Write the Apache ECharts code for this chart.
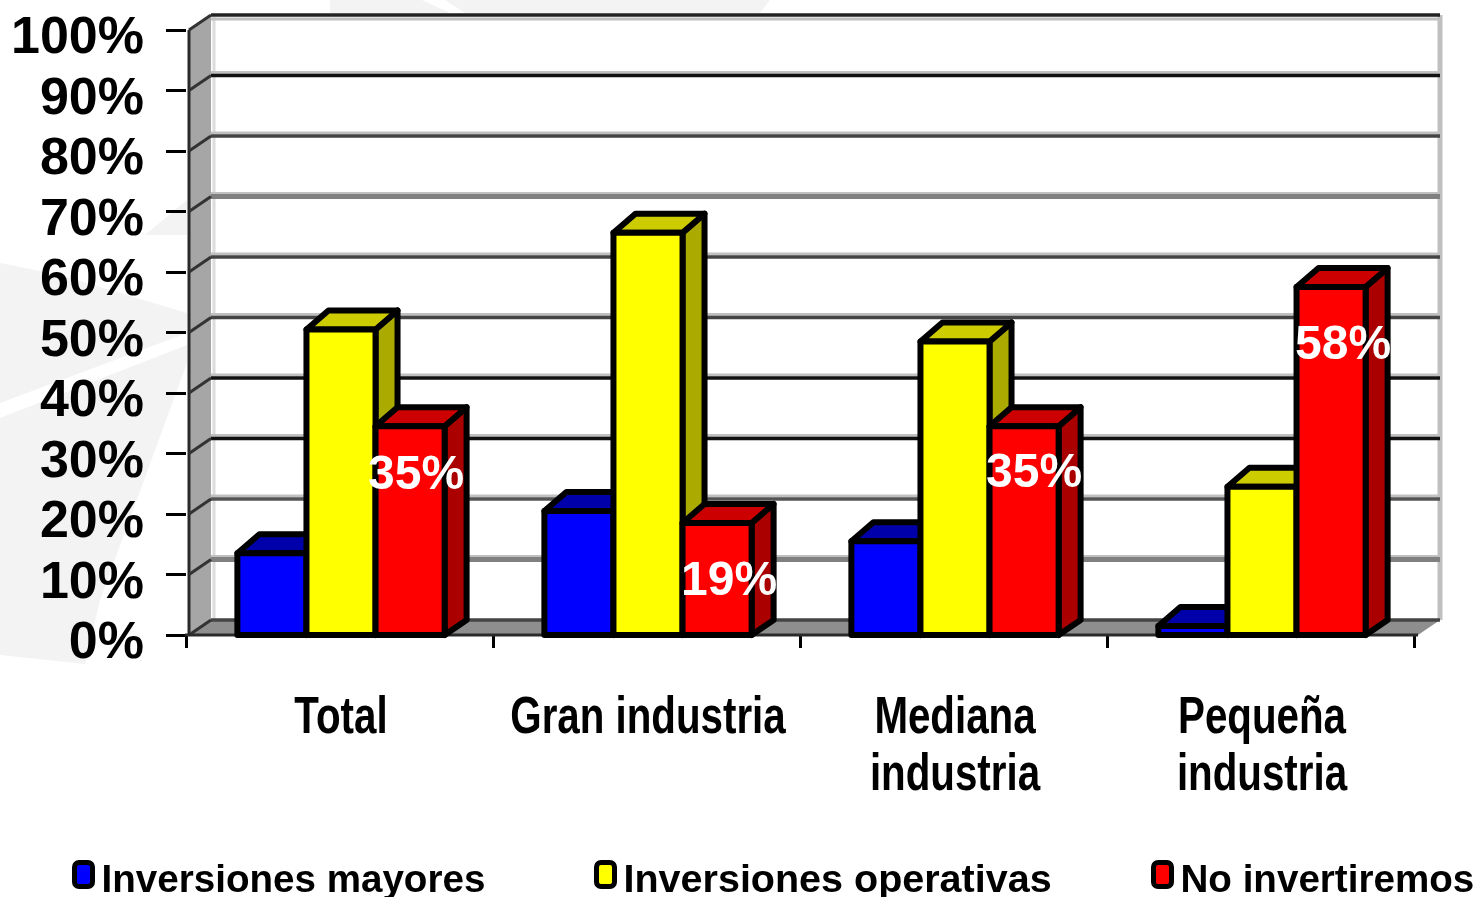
<!DOCTYPE html>
<html>
<head>
<meta charset="utf-8">
<style>
    html, body { margin: 0; padding: 0; background: #fff; }
    #chart { width: 1479px; height: 897px; }
</style>
<script src="https://cdn.jsdelivr.net/npm/echarts@6/dist/echarts.min.js"></script>
</head>
<body>
<div id="chart"></div>
<script>
    var categories = ['Total', 'Gran industria', 'Mediana\nindustria', 'Pequeña\nindustria'];
    var mayores = [14, 21, 16, 2];
    var operativas = [51, 67, 49, 25];
    var noInvertiremos = [35, 19, 35, 58];
    var yTicks = [0, 10, 20, 30, 40, 50, 60, 70, 80, 90, 100];

    // estilo del dibujo, aparte de los datos
    var DX = 22, DY = -15;
    var BAR_DY = -19, BAR_DROP = 3, BAR_RATIO = 0.225, BAR_SHIFT = 1.5;
    var gridColors = ['#444', '#808080', '#555', '#111', '#111', '#444', '#444', '#808080', '#444', '#111', '#222'];
    var labelFont = 'bold 48px "Liberation Sans"';
    var labelShift = [[6, 53], [12, 62], [10, 51], [12, 62]];

    function wallItem(params, api) {
        var p0 = api.coord([0, 0]);
        var p100 = api.coord([0, 100]);
        var band = api.size([1, 0])[0];
        var x0 = p0[0] - band * 0.5 + 3;
        var x1 = p0[0] + band * 3.5 + 4;
        var children = [
            { type: 'rect', shape: { x: x0 + DX, y: p100[1] + DY, width: x1 - x0, height: p0[1] - p100[1] }, style: { fill: '#fff' } },
            { type: 'polygon', shape: { points: [[x0, p100[1]], [x0 + DX, p100[1] + DY], [x0 + DX, p0[1] + DY], [x0, p0[1]]] }, style: { fill: '#a6a6a6' } },
            { type: 'polygon', shape: { points: [[x0, p0[1]], [x0 + DX, p0[1] + DY], [x1 + DX, p0[1] + DY], [x1, p0[1]]] }, style: { fill: '#8e8e8e' } },
            { type: 'line', shape: { x1: x0 + DX + 3, y1: p100[1] + DY + 2, x2: x0 + DX + 3, y2: p0[1] + DY }, style: { stroke: '#dcdcdc', lineWidth: 3 } },
            { type: 'line', shape: { x1: x1 + DX, y1: p100[1] + DY, x2: x1 + DX, y2: p0[1] + DY }, style: { stroke: '#c0c0c0', lineWidth: 5 } },
            { type: 'line', shape: { x1: x0, y1: p100[1], x2: x0, y2: p0[1] }, style: { stroke: '#2a2a2a', lineWidth: 3 } }
        ];
        yTicks.forEach(function (t, i) {
            var y = api.coord([0, t])[1];
            // la linea clara va encima, salvo en el 100% donde va debajo
            if (t > 0) {
                var lightY = t == 100 ? y + DY + 4 : y + DY - 3;
                children.push({ type: 'line', shape: { x1: x0 + DX, y1: lightY, x2: x1 + DX - 2, y2: lightY }, style: { stroke: '#c0c0c0', lineWidth: 3 } });
            }
            children.push({ type: 'line', shape: { x1: x0 + DX, y1: y + DY, x2: x1 + DX, y2: y + DY }, style: { stroke: gridColors[i], lineWidth: t == 70 || t == 10 ? 5 : 3.5 } });
            children.push({ type: 'line', shape: { x1: x0, y1: y, x2: x0 + DX, y2: y + DY }, style: { stroke: '#333', lineWidth: 3 } });
        });
        children.push({ type: 'line', shape: { x1: x0 - 4, y1: p0[1], x2: x1, y2: p0[1] }, style: { stroke: '#2a2a2a', lineWidth: 3 } });
        return { type: 'group', children: children };
    }

    function barRenderer(index, front, top, side) {
        return function (params, api) {
            var cat = api.value(0);
            var val = api.value(1);
            var pTop = api.coord([cat, val]);
            var pBase = api.coord([cat, 0]);
            var w = api.size([1, 0])[0] * BAR_RATIO;
            var x0 = pTop[0] + (index - 1.5) * w + BAR_SHIFT;
            var x1 = x0 + w;
            var yT = pTop[1] + BAR_DROP, yB = pBase[1];
            var lineStyle = { stroke: '#000', lineWidth: 6, lineJoin: 'round' };
            return {
                type: 'group',
                children: [
                    { type: 'polygon', shape: { points: [[x1, yT], [x1 + DX, yT + BAR_DY], [x1 + DX, yB + DY], [x1, yB]] }, style: Object.assign({ fill: side }, lineStyle) },
                    { type: 'polygon', shape: { points: [[x0, yT], [x0 + DX, yT + BAR_DY], [x1 + DX, yT + BAR_DY], [x1, yT]] }, style: Object.assign({ fill: top }, lineStyle) },
                    { type: 'rect', shape: { x: x0, y: yT, width: w, height: yB - yT }, style: Object.assign({ fill: front }, lineStyle) }
                ]
            };
        };
    }

    function labelItem(params, api) {
        var i = params.dataIndex;
        var p = api.coord([i, api.value(1)]);
        var w = api.size([1, 0])[0] * BAR_RATIO;
        return {
            type: 'text',
            style: {
                text: api.value(1) + '%',
                x: p[0] + w + BAR_SHIFT + labelShift[i][0],
                y: p[1] + labelShift[i][1],
                align: 'center',
                verticalAlign: 'middle',
                font: labelFont,
                fill: '#fff'
            }
        };
    }

    // el texto original es Arial comprimido: se estrecha con scaleX
    function categoryItem(params, api) {
        var i = params.dataIndex;
        var p = api.coord([i, 0]);
        return {
            type: 'text',
            x: p[0] + BAR_SHIFT,
            y: p[1] + 55,
            scaleX: 0.775,
            style: {
                text: categories[i],
                x: 0,
                y: 0,
                align: 'center',
                verticalAlign: 'top',
                lineHeight: 57,
                font: 'bold 52px "Liberation Sans"',
                fill: '#000'
            }
        };
    }

    function legendAt(name, left, size) {
        return {
            data: [name],
            left: left,
            top: 860,
            padding: 0,
            itemWidth: 18,
            itemHeight: 24,
            itemStyle: { borderWidth: 5, borderColor: '#000' },
            formatter: '{t|{name}}',
            textStyle: {
                rich: {
                    t: {
                        fontFamily: 'Liberation Sans',
                        fontWeight: 'bold',
                        fontSize: size,
                        color: '#000',
                        padding: [14, 0, 0, 4]
                    }
                }
            }
        };
    }

    function toPairs(arr) {
        return arr.map(function (v, i) { return [i, v]; });
    }

    function paleShape(points) {
        return { type: 'polygon', z: -1, silent: true, shape: { points: points }, style: { fill: '#f3f3f3' } };
    }

    var chart = echarts.init(document.getElementById('chart'));
    chart.setOption({
        animation: false,
        backgroundColor: '#fff',
        // marca de agua de fondo
        graphic: [
            paleShape([[0, 263], [60, 275], [187, 313], [187, 333], [0, 403]]),
            paleShape([[187, 345], [0, 418], [0, 655], [85, 664], [100, 600], [187, 363]]),
            paleShape([[145, 235], [187, 200], [187, 235]]),
            paleShape([[330, 0], [422, 0], [450, 13], [330, 13]]),
            paleShape([[445, 0], [770, 0], [760, 13], [465, 13]])
        ],
        legend: [
            legendAt('Inversiones mayores', 72, 38.6),
            legendAt('Inversiones operativas', 594, 39.5),
            legendAt('No invertiremos', 1151, 38.6)
        ],
        grid: { left: 186, top: 30, width: 1228, height: 605 },
        xAxis: {
            type: 'category',
            data: categories,
            axisLine: { show: false },
            axisTick: { show: true, length: 13, lineStyle: { color: '#000', width: 3 } },
            axisLabel: { show: false }
        },
        yAxis: {
            type: 'value',
            min: 0,
            max: 100,
            interval: 10,
            axisLine: { show: false },
            axisTick: { show: true, length: 20, lineStyle: { color: '#000', width: 3 } },
            splitLine: { show: false },
            axisLabel: {
                margin: 42,
                color: '#000',
                fontFamily: 'Liberation Sans',
                fontWeight: 'bold',
                fontSize: 52,
                formatter: '{value}%',
                verticalAlign: 'top',
                lineHeight: 18
            }
        },
        series: [
            { type: 'custom', name: 'wall', silent: true, z: 1, data: [[0, 0]], renderItem: wallItem },
            { type: 'custom', name: 'Inversiones mayores', z: 2, itemStyle: { color: '#0000ff' }, data: toPairs(mayores), renderItem: barRenderer(0, '#0000ff', '#0000aa', '#000088') },
            { type: 'custom', name: 'Inversiones operativas', z: 2, itemStyle: { color: '#ffff00' }, data: toPairs(operativas), renderItem: barRenderer(1, '#ffff00', '#cccc00', '#aaaa00') },
            { type: 'custom', name: 'No invertiremos', z: 2, itemStyle: { color: '#ff0000' }, data: toPairs(noInvertiremos), renderItem: barRenderer(2, '#ff0000', '#cc0000', '#aa0000') },
            { type: 'custom', name: 'labels', silent: true, z: 3, data: toPairs(noInvertiremos), renderItem: labelItem },
            { type: 'custom', name: 'categories', silent: true, z: 3, data: toPairs(categories.map(function () { return 0; })), renderItem: categoryItem }
        ]
    });
</script>
</body>
</html>
